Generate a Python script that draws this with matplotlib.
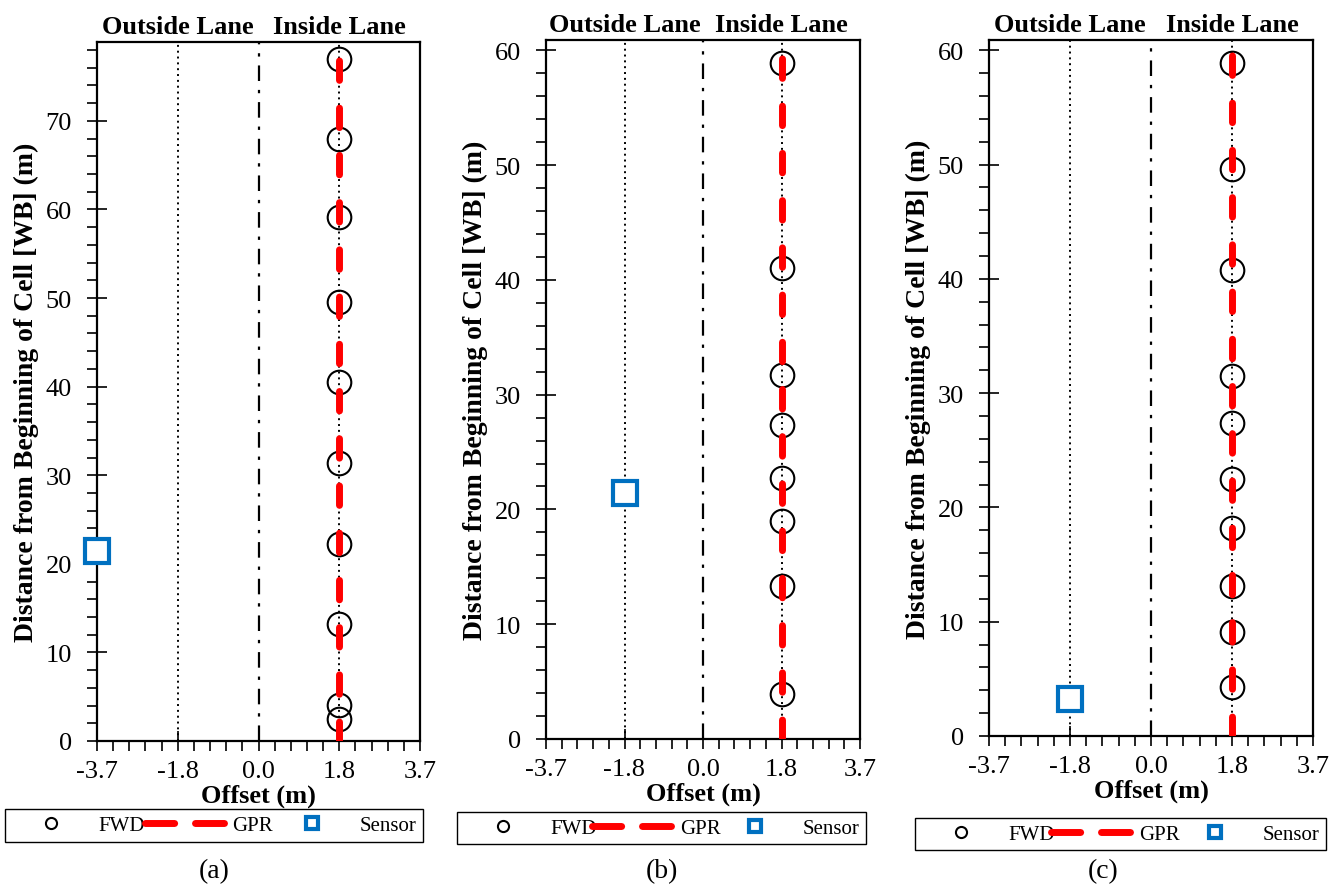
import matplotlib

matplotlib.use("Agg")

import matplotlib.pyplot as plt
from matplotlib.lines import Line2D
from matplotlib.ticker import MultipleLocator, FormatStrFormatter

plt.rcParams["font.family"] = ["Liberation Serif", "DejaVu Serif"]

LANE = 1.83  # half lane width (m)

# FWD test locations (distance along cell, m) at offset +1.83 m
fwd_a = [77.0, 68.0, 59.2, 49.6, 40.5, 31.4, 22.2, 13.2, 4.1, 2.5]
fwd_b = [58.9, 41.0, 31.7, 27.4, 22.7, 19.0, 13.3, 3.9]
fwd_c = [58.9, 49.6, 40.8, 31.5, 27.4, 22.5, 18.2, 13.1, 9.1, 4.3]

# GPR survey runs along the inside lane wheel path
gpr_a = [0.0, 78.9]
gpr_b = [0.0, 60.9]
gpr_c = [0.0, 60.9]

# sensor location (offset, distance)
sensor_x = [-3.66, -1.83, -1.83]
sensor_y = [21.4, 21.4, 3.2]

y_top = [78.9, 60.9, 60.9]
captions = ["(a)", "(b)", "(c)"]

W, H = 1340, 887
# axes boxes in pixels: left, top, right, bottom
ax_boxes = [(97, 43, 420, 742), (546, 41, 860, 740), (989, 41, 1313, 737)]
leg_boxes = [(5, 808, 423, 845), (457, 813, 866, 845), (915, 821, 1326, 849)]
cap_x = [214, 662, 1103]

fig = plt.figure(figsize=(W / 100, H / 100), dpi=100)

fwd_sets = [fwd_a, fwd_b, fwd_c]
gpr_sets = [gpr_a, gpr_b, gpr_c]

for i in range(3):
    l, t, r, b = ax_boxes[i]
    ax = fig.add_axes([l / W, (H - b) / H, (r - l) / W, (b - t) / H])

    ax.axvline(-LANE, color="black", ls=(0, (1, 2)), lw=1.4, zorder=1)
    ax.axvline(0.0, color="black", ls=(0, (7, 4, 1.5, 4)), lw=1.6, zorder=1)
    ax.axvline(LANE, color="black", ls=(0, (1, 2)), lw=1.4, zorder=1)

    ax.plot([LANE] * len(gpr_sets[i]), gpr_sets[i], color="red", lw=5,
            dashes=(2.8, 4.0), dash_capstyle="round", zorder=3)
    ax.plot([LANE] * len(fwd_sets[i]), fwd_sets[i], ls="none", marker="o",
            ms=17, mfc="none", mec="black", mew=1.5, zorder=2)
    ax.plot([sensor_x[i]], [sensor_y[i]], ls="none", marker="s", ms=17,
            mfc="white", mec="#0070C0", mew=3, zorder=4, clip_on=False)

    ax.set_xlim(-2 * LANE, 2 * LANE)
    ax.set_ylim(0, y_top[i])
    ax.xaxis.set_major_locator(MultipleLocator(LANE))
    ax.xaxis.set_minor_locator(MultipleLocator(LANE / 5))
    ax.xaxis.set_major_formatter(FormatStrFormatter("%.1f"))
    ax.yaxis.set_major_locator(MultipleLocator(10))
    ax.yaxis.set_minor_locator(MultipleLocator(2))
    ax.tick_params(which="major", direction="inout", length=14, width=1.2,
                   labelsize=19)
    ax.tick_params(which="minor", direction="out", length=7, width=1.2)
    ax.tick_params(axis="x", which="major", pad=7)
    ax.tick_params(axis="y", which="major", pad=11)
    for s in ax.spines.values():
        s.set_linewidth(1.6)

    ax.set_xlabel("Offset (m)", fontsize=19, fontweight="bold", labelpad=1)
    ax.set_ylabel("Distance from Beginning of Cell [WB] (m)", fontsize=20,
                  fontweight="bold", labelpad=5)

    ax.text(-LANE, 1.006, "Outside Lane", transform=ax.get_xaxis_transform(),
            ha="center", va="bottom", fontsize=19, fontweight="bold")
    ax.text(LANE, 1.006, "Inside Lane", transform=ax.get_xaxis_transform(),
            ha="center", va="bottom", fontsize=19, fontweight="bold")

    handles = [
        Line2D([], [], ls="none", marker="o", ms=8, mfc="none", mec="black", mew=1.5),
        Line2D([], [], color="red", lw=5, dashes=(4.2, 3.0), dash_capstyle="round"),
        Line2D([], [], ls="none", marker="s", ms=8, mfc="white", mec="#0070C0", mew=3),
    ]
    ll, lt, lr, lb = leg_boxes[i]
    fig.legend(handles, ["FWD", "GPR", "Sensor"], ncol=3, mode="expand",
               loc="center",
               bbox_to_anchor=(ll / W, (H - lb) / H, (lr - ll) / W, (lb - lt) / H),
               fontsize=15, frameon=True, fancybox=False, edgecolor="black",
               framealpha=1, handlelength=3.8, handletextpad=0.4,
               columnspacing=0.5, borderpad=0.3, borderaxespad=0)

    fig.text(cap_x[i] / W, 1 - 872 / H, captions[i], ha="center", va="center",
             fontsize=20)

fig.savefig("out.png", dpi=100)
